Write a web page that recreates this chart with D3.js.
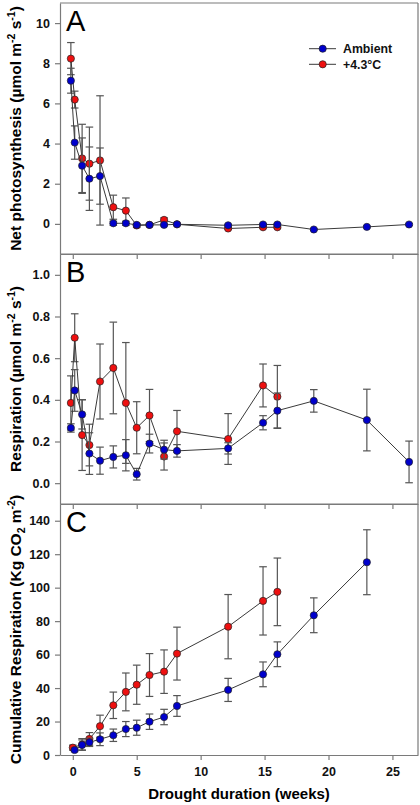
<!DOCTYPE html>
<html><head><meta charset="utf-8">
<script src="https://cdn.jsdelivr.net/npm/d3@7"></script>
<style>body{margin:0;background:#fff}svg{display:block}</style>
</head><body>
<script>
// ---------- data ----------
const weeksAB_warm = [-0.15, 0.15, 0.73, 1.3, 2.13, 3.17, 4.15, 5.0, 6.0, 7.14, 8.15, 12.15, 14.88, 16.0];
const weeksAB_amb  = [-0.15, 0.15, 0.73, 1.3, 2.13, 3.17, 4.15, 5.0, 6.0, 7.14, 8.15, 12.15, 14.88, 16.0, 18.85, 23.0, 26.3];
const weeksC_warm  = [0.0, 0.73, 1.3, 2.13, 3.17, 4.15, 5.0, 6.0, 7.14, 8.15, 12.15, 14.88, 16.0];
const weeksC_amb   = [0.14, 0.73, 1.3, 2.13, 3.17, 4.15, 5.0, 6.0, 7.14, 8.15, 12.15, 14.88, 16.0, 18.85, 23.0];

const photoAmb    = [7.13, 4.05, 2.9, 2.25, 2.38, 0.03, 0.03, -0.05, -0.05, -0.05, -0.02, -0.07, -0.03, -0.03, -0.28, -0.15, -0.03];
const photoAmbErr = [0.62, 0.83, 1.38, 1.58, 1.4, 0.1, 0.1, 0.05, 0.05, 0.05, 0.05, 0.05, 0.05, 0.05, 0.05, 0.05, 0.05];
const photoWarm    = [8.23, 6.19, 3.26, 3.0, 3.16, 0.83, 0.66, -0.08, -0.05, 0.2, -0.02, -0.23, -0.17, -0.17];
const photoWarmErr = [0.8, 0.42, 1.7, 1.82, 3.22, 0.6, 0.63, 0.1, 0.05, 0.1, 0.05, 0.05, 0.05, 0.05];

const respAmb    = [0.265, 0.445, 0.33, 0.142, 0.108, 0.126, 0.134, 0.043, 0.19, 0.161, 0.155, 0.167, 0.29, 0.348, 0.395, 0.303, 0.102];
const respAmbErr = [0.02, 0.1, 0.07, 0.1, 0.065, 0.053, 0.075, 0.028, 0.045, 0.045, 0.03, 0.027, 0.034, 0.085, 0.054, 0.148, 0.1];
const respWarm    = [0.385, 0.698, 0.231, 0.183, 0.488, 0.553, 0.385, 0.266, 0.325, 0.128, 0.249, 0.212, 0.469, 0.415];
const respWarmErr = [0.13, 0.115, 0.17, 0.1, 0.18, 0.22, 0.29, 0.125, 0.125, 0.065, 0.1, 0.122, 0.103, 0.15];

const cumAmb    = [3.0, 6.0, 7.6, 9.4, 11.8, 15.5, 16.3, 19.9, 22.7, 29.3, 38.9, 48.2, 60.2, 83.5, 115.2];
const cumAmbErr = [1.0, 3.0, 2.5, 3.8, 3.7, 4.5, 4.5, 4.6, 4.6, 6.2, 6.9, 7.4, 7.4, 10.4, 19.4];
const cumWarm    = [4.4, 6.3, 9.6, 17.2, 29.7, 37.7, 42, 47.8, 49.8, 60.6, 76.7, 92.1, 97.5];
const cumWarmErr = [1.5, 3.5, 3.8, 6.6, 7.9, 11.3, 11.7, 12.8, 13, 15.8, 19.2, 20.4, 20.2];

const xTicks = [0, 5, 10, 15, 20, 25];
const yTicksA = [0, 2, 4, 6, 8, 10];
const yTicksB = [0.0, 0.2, 0.4, 0.6, 0.8, 1.0];
const yTicksC = [0, 20, 40, 60, 80, 100, 120, 140];
const seriesNames = ["Ambient", "+4.3°C"];
const colors = {amb: "#0000cc", warm: "#ee1010"};

// ---------- layout ----------
const W = 420, H = 805;
const left = 60, right = 418;
const svg = d3.select("body").append("svg").attr("width", W).attr("height", H)
  .style("font-family", "'Liberation Sans', Arial, sans-serif");

const x = d3.scaleLinear().domain([-1, 27]).range([left, right]);

const panels = [
  {letter: "A", top: 3, bottom: 254, domain: [-1.5, 11], ticks: yTicksA, fmt: d3.format("d"),
   amb: [weeksAB_amb, photoAmb, photoAmbErr], warm: [weeksAB_warm, photoWarm, photoWarmErr]},
  {letter: "B", top: 254, bottom: 504, domain: [-0.1, 1.1], ticks: yTicksB, fmt: d3.format(".1f"),
   amb: [weeksAB_amb, respAmb, respAmbErr], warm: [weeksAB_warm, respWarm, respWarmErr]},
  {letter: "C", top: 504, bottom: 755, domain: [0, 150], ticks: yTicksC, fmt: d3.format("d"),
   amb: [weeksC_amb, cumAmb, cumAmbErr], warm: [weeksC_warm, cumWarm, cumWarmErr]}
];

const axisColor = "#7a7a7a";

panels.forEach((p, i) => {
  const y = d3.scaleLinear().domain(p.domain).range([p.bottom, p.top]);
  p.y = y;
  const g = svg.append("g");

  // frame top & right
  g.append("line").attr("x1", left).attr("x2", right).attr("y1", p.top).attr("y2", p.top)
    .attr("stroke", axisColor).attr("stroke-width", 1.2);
  g.append("line").attr("x1", right).attr("x2", right).attr("y1", p.top).attr("y2", p.bottom)
    .attr("stroke", axisColor).attr("stroke-width", 1.2);

  // left axis
  const ya = g.append("g").attr("transform", `translate(${left},0)`)
    .call(d3.axisLeft(y).tickValues(p.ticks).tickFormat(p.fmt).tickSize(5).tickSizeOuter(0));
  ya.selectAll("path,line").attr("stroke", axisColor).attr("stroke-width", 1.2);
  ya.selectAll("text").attr("font-size", 12.5).attr("font-weight", "bold").attr("fill", "#111")
    .attr("x", -10);

  // bottom axis
  const xa = g.append("g").attr("transform", `translate(0,${p.bottom})`)
    .call(d3.axisBottom(x).tickValues(xTicks).tickSize(5).tickSizeOuter(0)
      .tickFormat(i === 2 ? d3.format("d") : ""));
  xa.selectAll("path,line").attr("stroke", axisColor).attr("stroke-width", 1.2);
  xa.selectAll("text").attr("font-size", 12.5).attr("font-weight", "bold").attr("fill", "#111")
    .attr("y", 12);

  // panel letter
  g.append("text").attr("x", 66).attr("y", p.top + 28).attr("font-size", 29)
    .attr("fill", "#000").text(p.letter);

  // series: warm first, ambient on top
  [["warm", p.warm], ["amb", p.amb]].forEach(([key, [xs, vs, es]]) => {
    const data = xs.map((d, k) => ({x: d, v: vs[k], e: es[k]}));
    const eb = g.append("g");
    data.forEach(d => {
      const cx = x(d.x), y1 = y(d.v + d.e), y2 = y(d.v - d.e);
      eb.append("line").attr("x1", cx).attr("x2", cx).attr("y1", y1).attr("y2", y2)
        .attr("stroke", "#555").attr("stroke-width", 1.2);
      [y1, y2].forEach(yy => eb.append("line").attr("x1", cx - 3.8).attr("x2", cx + 3.8)
        .attr("y1", yy).attr("y2", yy).attr("stroke", "#555").attr("stroke-width", 1.2));
    });
    g.append("path").datum(data)
      .attr("d", d3.line().x(d => x(d.x)).y(d => y(d.v)))
      .attr("fill", "none").attr("stroke", "#3a3a3a").attr("stroke-width", 1);
    g.append("g").selectAll("circle").data(data).join("circle")
      .attr("cx", d => x(d.x)).attr("cy", d => y(d.v)).attr("r", 3.6)
      .attr("fill", colors[key]).attr("stroke", "#222").attr("stroke-width", 0.7);
  });
});

// ---------- y titles ----------
function yTitle(cx, cy, parts) {
  const t = svg.append("text").attr("transform", `translate(${cx},${cy}) rotate(-90)`)
    .attr("text-anchor", "middle").attr("font-size", 15.5).attr("font-weight", "bold").attr("fill", "#000");
  parts.forEach(([s, kind]) => {
    const ts = t.append("tspan").text(s);
    if (kind === "sup") ts.attr("font-size", 10.5).attr("dy", -6);
    else if (kind === "sub") ts.attr("font-size", 10.5).attr("dy", 4);
    else if (kind === "supEnd") ts.attr("dy", 6);
    else if (kind === "subEnd") ts.attr("dy", -4);
  });
}
yTitle(21, 128.5, [["Net photosynthesis (µmol m", ""], ["-2", "sup"], [" s", "supEnd"], ["-1", "sup"], [")", "supEnd"]]);
yTitle(21, 379, [["Respiration (µmol m", ""], ["-2", "sup"], [" s", "supEnd"], ["-1", "sup"], [")", "supEnd"]]);
yTitle(21, 629.5, [["Cumulative Respiration (Kg CO", ""], ["2", "sub"], [" m", "subEnd"], ["-2", "sup"], [")", "supEnd"]]);

// ---------- x title ----------
svg.append("text").attr("x", (left + right) / 2).attr("y", 799).attr("text-anchor", "middle")
  .attr("font-size", 15).attr("font-weight", "bold").attr("fill", "#000").text("Drought duration (weeks)");

// ---------- legend ----------
const leg = svg.append("g");
[["amb", 48.7], ["warm", 64.3]].forEach(([key, ly], k) => {
  leg.append("line").attr("x1", 309).attr("x2", 336).attr("y1", ly).attr("y2", ly)
    .attr("stroke", "#3a3a3a").attr("stroke-width", 1);
  leg.append("circle").attr("cx", 322.7).attr("cy", ly).attr("r", 3.6)
    .attr("fill", colors[key]).attr("stroke", "#222").attr("stroke-width", 0.7);
  leg.append("text").attr("x", 343).attr("y", ly + 4.3).attr("font-size", 12.3)
    .attr("font-weight", "bold").attr("fill", "#111").text(seriesNames[k]);
});
</script>
</body></html>
